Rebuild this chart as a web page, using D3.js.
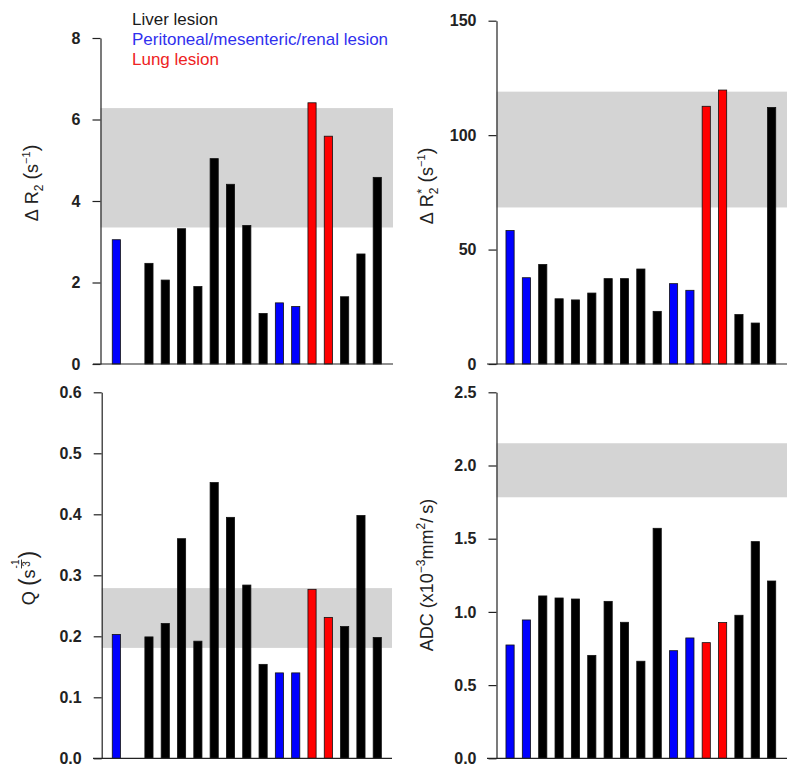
<!DOCTYPE html>
<html><head><meta charset="utf-8">
<script src="https://cdn.jsdelivr.net/npm/d3@7"></script>
<style>body{margin:0;background:#fff}svg{display:block}text{font-family:"Liberation Sans",Arial,sans-serif}</style>
</head><body><svg id="c" width="800" height="776"></svg>
<script>
// ---- data ----
const categories = d3.range(1, 18).map(String);
const lesionType = ["P","P","L","L","L","L","L","L","L","L","P","P","U","U","L","L","L"]; // L liver, P peritoneal/mesenteric/renal, U lung
const dR2      = [3.05, null, 2.47, 2.06, 3.32, 1.90, 5.04, 4.41, 3.40, 1.24, 1.50, 1.41, 6.41, 5.59, 1.65, 2.70, 4.58];
const dR2star  = [58.3, 37.7, 43.5, 28.5, 28.0, 31.0, 37.3, 37.3, 41.5, 23.0, 35.1, 32.2, 112.6, 119.7, 21.6, 17.9, 112.1];
const Qvals    = [0.203, null, 0.199, 0.221, 0.360, 0.192, 0.452, 0.395, 0.284, 0.154, 0.140, 0.140, 0.277, 0.231, 0.216, 0.398, 0.198];
const ADCvals  = [0.774, 0.945, 1.109, 1.095, 1.088, 0.703, 1.072, 0.929, 0.663, 1.571, 0.735, 0.822, 0.790, 0.927, 0.977, 1.480, 1.211];
const bandR2 = [3.35, 6.28];
const bandR2star = [68.4, 119.0];
const bandQ = [0.181, 0.279];
const bandADC = [1.783, 2.152];
const ticksR2 = [0, 2, 4, 6, 8];
const ticksR2star = [0, 50, 100, 150];
const ticksQ = [0, 0.1, 0.2, 0.3, 0.4, 0.5, 0.6];
const ticksADC = [0, 0.5, 1.0, 1.5, 2.0, 2.5];
const legendLabels = ["Liver lesion", "Peritoneal/mesenteric/renal lesion", "Lung lesion"];
const legendTypes = ["L", "P", "U"];

const colorOf = {L: "#000000", P: "#0000ff", U: "#ff0000"};
const textColorOf = {L: "#1a1a1a", P: "#3030ee", U: "#ee2222"};

const svg = d3.select("#c");

function drawPanel(cfg) {
  const g = svg.append("g");
  const y = d3.scaleLinear().domain([0, d3.max(cfg.ticks)]).range([cfg.y0, cfg.y1]);
  const x = d3.scaleBand().domain(categories).range(cfg.xr).paddingInner(0.5).paddingOuter(0.2);
  // reference band
  g.append("rect")
    .attr("x", cfg.ax).attr("width", cfg.bx1 - cfg.ax)
    .attr("y", y(cfg.band[1])).attr("height", y(cfg.band[0]) - y(cfg.band[1]))
    .attr("fill", "#d4d4d4");
  // bars
  const rows = categories.map((c, i) => ({c, v: cfg.values[i], t: lesionType[i]})).filter(d => d.v != null);
  g.selectAll("rect.bar").data(rows).join("rect").attr("class", "bar")
    .attr("x", d => x(d.c)).attr("width", x.bandwidth())
    .attr("y", d => y(d.v)).attr("height", d => y(0) - y(d.v))
    .attr("fill", d => colorOf[d.t]).attr("stroke", "#111").attr("stroke-width", 0.8);
  // y axis
  const ax = g.append("g").attr("transform", `translate(${cfg.ax},0)`)
    .call(d3.axisLeft(y).tickValues(cfg.ticks).tickSize(8).tickSizeOuter(0).tickPadding(12).tickFormat(cfg.fmt));
  ax.selectAll("path,line").attr("stroke", "#222").attr("stroke-width", 1.2);
  ax.selectAll("text").attr("font-size", 16).attr("font-weight", "bold").attr("fill", "#222")
    .attr("font-family", "'Liberation Sans',Arial,sans-serif");
  // x baseline
  g.append("line").attr("x1", cfg.bx0).attr("x2", cfg.bx1).attr("y1", y(0)).attr("y2", y(0))
    .attr("stroke", "#222").attr("stroke-width", 1.2);
  // y label
  richLabel(cfg.label, cfg.lx, cfg.ly);
}

function richLabel(pieces, bx, cy) {
  const g = svg.append("g").attr("transform", `translate(${bx},${cy}) rotate(-90)`);
  const inner = g.append("g").attr("fill", "#222");
  let x = 0;
  for (const p of pieces) {
    if (p.frac) {
      const t1 = inner.append("text").attr("y", p.top).attr("font-size", p.size).text(p.frac[0]);
      const t2 = inner.append("text").attr("y", p.bot).attr("font-size", p.size).text(p.frac[1]);
      const w1 = t1.node().getComputedTextLength(), w2 = t2.node().getComputedTextLength();
      const w = Math.max(w1, w2);
      t1.attr("x", x + (w - w1) / 2 + 1);
      t2.attr("x", x + (w - w2) / 2 + 1);
      inner.append("line").attr("x1", x + 1).attr("x2", x + w + 1).attr("y1", p.line).attr("y2", p.line)
        .attr("stroke", "#222").attr("stroke-width", 0.9);
      x += w + 2;
    } else {
      const t = inner.append("text").attr("x", x + (p.dx || 0)).attr("y", p.dy || 0)
        .attr("font-size", p.size || 18).text(p.t);
      const w = t.node().getComputedTextLength();
      if (!p.noAdvance) x += w + (p.dx || 0);
    }
  }
  inner.attr("transform", `translate(${-x / 2},0)`);
}

const f0 = d3.format("d"), f1 = d3.format(".1f");

drawPanel({values: dR2, band: bandR2, ticks: ticksR2, fmt: f0,
  ax: 100.5, y0: 364, y1: 38, xr: [109, 384.6], bx0: 93, bx1: 393,
  lx: 38, ly: 183,
  label: [{t: "\u0394"}, {t: "R", dx: 5}, {t: "2", size: 12, dy: 5}, {t: "(", size: 20, dx: 5}, {t: "s"}, {t: "\u22121", size: 11, dy: -8}, {t: ")", size: 20}]});

drawPanel({values: dR2star, band: bandR2star, ticks: ticksR2star, fmt: f0,
  ax: 496.5, y0: 364, y1: 20.7, xr: [502.7, 779], bx0: 487, bx1: 787,
  lx: 433, ly: 186,
  label: [{t: "\u0394"}, {t: "R", dx: 5}, {t: "*", size: 13, dy: -7, dx: 0.5, noAdvance: true}, {t: "2", size: 12, dy: 5}, {t: "(", size: 20, dx: 5}, {t: "s"}, {t: "\u22121", size: 11, dy: -8}, {t: ")", size: 20}]});

drawPanel({values: Qvals, band: bandQ, ticks: ticksQ, fmt: f1,
  ax: 101.7, y0: 758.3, y1: 392.3, xr: [109, 384.6], bx0: 93, bx1: 392,
  lx: 35, ly: 578,
  label: [{t: "Q"}, {t: "(", size: 23, dy: 1, dx: 5}, {t: "s"}, {frac: ["-1", "3"], size: 10, top: -16, bot: -5, line: -13.5}, {t: ")", size: 23, dy: 1}]});

drawPanel({values: ADCvals, band: bandADC, ticks: ticksADC, fmt: f1,
  ax: 496.5, y0: 758.3, y1: 392.3, xr: [502.7, 779], bx0: 487, bx1: 787,
  lx: 433, ly: 575,
  label: [{t: "ADC"}, {t: "(x10", dx: 5}, {t: "\u22123", size: 12, dy: -8}, {t: "mm"}, {t: "2", size: 12, dy: -8}, {t: "/"}, {t: "s)", dx: 4}]});

// legend
svg.append("g").selectAll("text").data(legendLabels).join("text")
  .attr("x", 132).attr("y", (d, i) => 25 + i * 20)
  .attr("font-size", 17).attr("fill", (d, i) => textColorOf[legendTypes[i]]).text(d => d);
</script></body></html>
